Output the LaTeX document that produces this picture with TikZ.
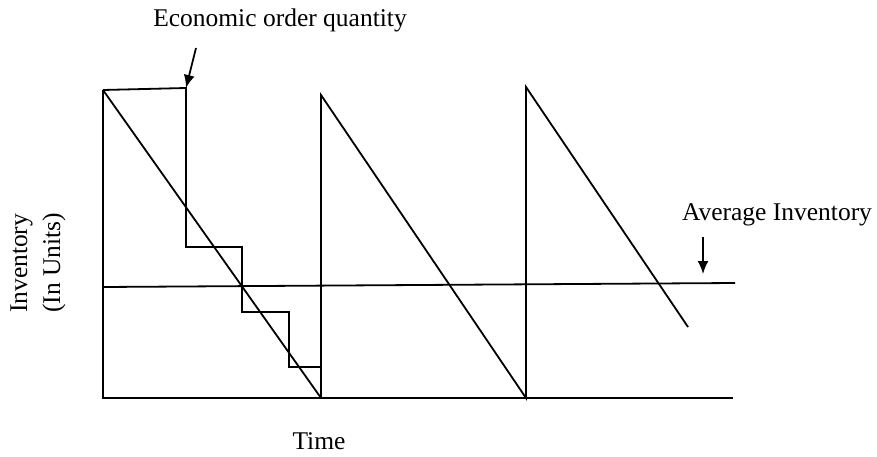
\documentclass[tikz,border=0pt]{standalone}
\usepackage{fontspec}
\setmainfont{Liberation Serif}
\usetikzlibrary{arrows.meta}
\begin{document}
\begin{tikzpicture}[x=1pt,y=-1pt,
  ln/.style={line width=1.8pt, black},
  lbl/.style={font=\fontsize{25.5}{33}\selectfont, inner sep=0pt},
  pointer/.style={line width=1.8pt, -{Latex[length=13pt,width=11pt]}}]
\useasboundingbox (0,0) rectangle (877,457);
% key points
\coordinate (O) at (103,398);
\coordinate (T1) at (103,90);
\coordinate (E1) at (186,88);
\coordinate (S1) at (186,247);
\coordinate (S2) at (242,247);
\coordinate (S3) at (242,312);
\coordinate (S4) at (289,312);
\coordinate (S5) at (289,367);
\coordinate (S6) at (321,367);
\coordinate (B1) at (321,398);
\coordinate (T2) at (321,95);
\coordinate (B2) at (526,398);
\coordinate (T3) at (526,87);
\coordinate (D3) at (688,327);
\coordinate (BR) at (733,398);
\coordinate (AL) at (103,287);
\coordinate (AR) at (735,283);
% axes and baseline
\draw[ln] (T1) -- (O) -- (BR);
\draw[ln] (AL) -- (AR);
% first cycle: EOQ step and sawtooth
\draw[ln] (T1) -- (E1) -- (S1) -- (S2) -- (S3) -- (S4) -- (S5) -- (S6);
\draw[ln] (T1) -- (B1);
\draw[ln] (B1) -- (T2) -- (B2) -- (T3) -- (D3);
% labels
\node[lbl] (eoq) at (280,20) {Economic order quantity};
\coordinate (eoqs) at (196,48);
\draw[pointer] (eoqs) -- (E1);
\node[lbl] (avg) at (777,215) {Average Inventory};
\coordinate (avs) at (703,237);
\coordinate (ave) at (703,274);
\draw[pointer] (avs) -- (ave);
\node[lbl, rotate=90, align=left] (inv) at (38,263) {Inventory\\(In Units)};
\node[lbl] (time) at (319,441) {Time};
\end{tikzpicture}
\end{document}
